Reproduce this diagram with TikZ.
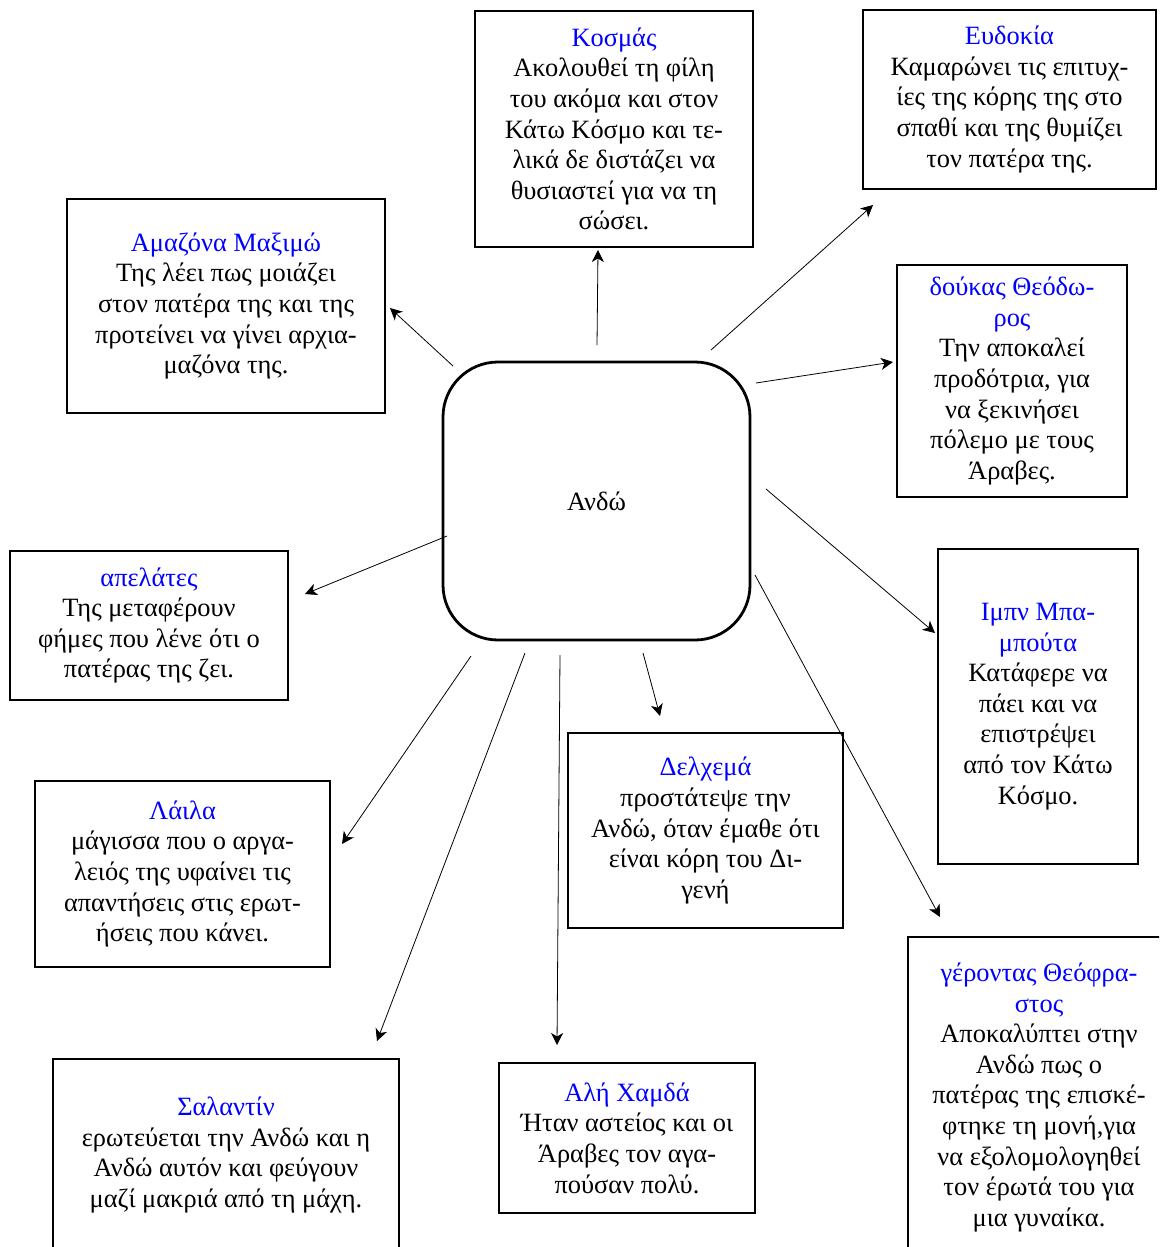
\documentclass[tikz,border=0pt]{standalone}
\usepackage{fontspec}
\setmainfont{Liberation Serif}
\usepackage{xcolor}
\usepackage{tikz}
\usetikzlibrary{arrows.meta}
\definecolor{onoma}{RGB}{0,0,255}

\begin{document}
\begin{tikzpicture}[x=1pt,y=-1pt,
        font=\fontsize{26.4}{30.6}\selectfont,
        prosopo/.style={draw, line width=2.8pt, align=center, inner sep=0pt},
        velos/.style={-{Stealth[length=12pt,width=12pt,inset=3.5pt]}, line width=0.8pt}]
        \clip (0,0) rectangle (1159,1247);

        \node[draw, line width=2.8pt, rounded corners=55pt, minimum width=307pt, minimum height=278pt] (ando) at (596.5,501) {Ανδώ};

        \node[prosopo, minimum width=278pt, minimum height=236pt] (kosmas) at (614,129) {{\color{onoma}Κοσμάς}\\Ακολουθεί τη φίλη\\του ακόμα και στον\\Κάτω Κόσμο και τε-\\λικά δε διστάζει να\\θυσιαστεί για να τη\\σώσει.};
        \node[prosopo, minimum width=293pt, minimum height=179pt] (evdokia) at (1009.5,99.5) {{\color{onoma}Ευδοκία}\\Καμαρώνει τις επιτυχ-\\ίες της κόρης της στο\\σπαθί και της θυμίζει\\τον πατέρα της.};
        \node[prosopo, minimum width=318pt, minimum height=214pt] (amazona) at (226,306) {{\color{onoma}Αμαζόνα Μαξιμώ}\\Της λέει πως μοιάζει\\στον πατέρα της και της\\προτείνει να γίνει αρχια-\\μαζόνα της.};
        \node[prosopo, minimum width=230pt, minimum height=232pt] (doukas) at (1012,381) {{\color{onoma}δούκας Θεόδω-}\\{\color{onoma}ρος}\\Την αποκαλεί\\προδότρια, για\\να ξεκινήσει\\πόλεμο με τους\\Άραβες.};
        \node[prosopo, minimum width=278pt, minimum height=149pt] (apelates) at (149,625.5) {{\color{onoma}απελάτες}\\Της μεταφέρουν\\φήμες που λένε ότι ο\\πατέρας της ζει.};
        \node[prosopo, minimum width=200pt, minimum height=315pt] (babouta) at (1038,706.5) {{\color{onoma}Ιμπν Μπα-}\\{\color{onoma}μπούτα}\\Κατάφερε να\\πάει και να\\επιστρέψει\\από τον Κάτω\\Κόσμο.};
        \node[prosopo, minimum width=275pt, minimum height=195pt] (delchema) at (705.5,830.5) {{\color{onoma}Δελχεμά}\\προστάτεψε την\\Ανδώ, όταν έμαθε ότι\\είναι κόρη του Δι-\\γενή};
        \node[prosopo, minimum width=295pt, minimum height=186pt] (laila) at (182.5,874) {{\color{onoma}Λάιλα}\\μάγισσα που ο αργα-\\λειός της υφαίνει τις\\απαντήσεις στις ερωτ-\\ήσεις που κάνει.};
        \node[prosopo, minimum width=346pt, minimum height=192pt] (salantin) at (226,1155) {{\color{onoma}Σαλαντίν}\\ερωτεύεται την Ανδώ και η\\Ανδώ αυτόν και φεύγουν\\μαζί μακριά από τη μάχη.};
        \node[prosopo, minimum width=256pt, minimum height=150pt] (ali) at (627,1138) {{\color{onoma}Αλή Χαμδά}\\Ήταν αστείος και οι\\Άραβες τον αγα-\\πούσαν πολύ.};
        \node[prosopo, minimum width=262pt, minimum height=321pt] (gerontas) at (1039,1097.5) {{\color{onoma}γέροντας Θεόφρα-}\\{\color{onoma}στος}\\Αποκαλύπτει στην\\Ανδώ πως ο\\πατέρας της επισκέ-\\φτηκε τη μονή,για\\να εξολομολογηθεί\\τον έρωτά του για\\μια γυναίκα.};

        % akra ton velon
        \coordinate (kosmas-a) at (597,345);   \coordinate (kosmas-b) at (598,250);
        \coordinate (amazona-a) at (453,366);  \coordinate (amazona-b) at (390,308);
        \coordinate (evdokia-a) at (711,350);  \coordinate (evdokia-b) at (873,205);
        \coordinate (doukas-a) at (756,383);   \coordinate (doukas-b) at (893,362);
        \coordinate (babouta-a) at (766,489);  \coordinate (babouta-b) at (935,633);
        \coordinate (gerontas-a) at (755,575); \coordinate (gerontas-b) at (940,917);
        \coordinate (delchema-a) at (643,653); \coordinate (delchema-b) at (660,716);
        \coordinate (ali-a) at (560,655);      \coordinate (ali-b) at (557,1045);
        \coordinate (salantin-a) at (525,653); \coordinate (salantin-b) at (377,1041);
        \coordinate (laila-a) at (471,656);    \coordinate (laila-b) at (342,844);
        \coordinate (apelates-a) at (447,536); \coordinate (apelates-b) at (305,594);

        \draw[velos] (kosmas-a) -- (kosmas-b);
        \draw[velos] (amazona-a) -- (amazona-b);
        \draw[velos] (evdokia-a) -- (evdokia-b);
        \draw[velos] (doukas-a) -- (doukas-b);
        \draw[velos] (babouta-a) -- (babouta-b);
        \draw[velos] (gerontas-a) -- (gerontas-b);
        \draw[velos] (delchema-a) -- (delchema-b);
        \draw[velos] (ali-a) -- (ali-b);
        \draw[velos] (salantin-a) -- (salantin-b);
        \draw[velos] (laila-a) -- (laila-b);
        \draw[velos] (apelates-a) -- (apelates-b);
    \end{tikzpicture}
\end{document}
